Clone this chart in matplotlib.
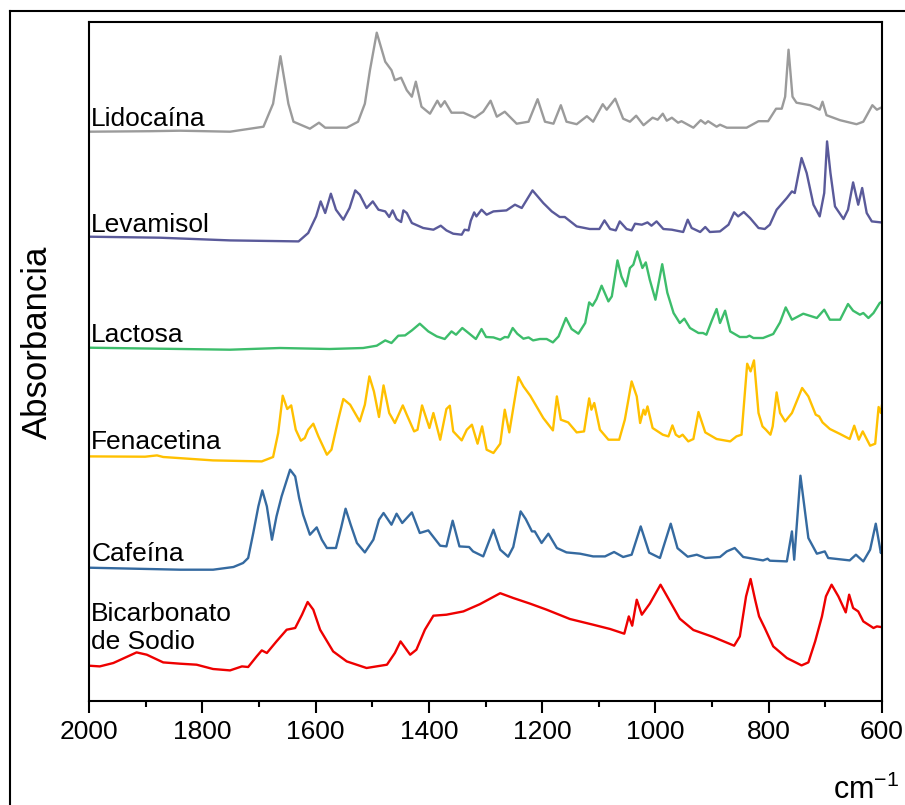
import matplotlib
matplotlib.use('Agg')
import matplotlib.pyplot as plt
from matplotlib.lines import Line2D
from matplotlib.ticker import MultipleLocator

plt.rcParams['font.family'] = ['Liberation Sans', 'DejaVu Sans']
plt.rcParams['mathtext.fontset'] = 'custom'
plt.rcParams['mathtext.rm'] = 'Liberation Sans'

# ---- spectra (wavenumber cm-1, absorbance in arbitrary units above own baseline) ----
lido_wn = [2000, 1892, 1839, 1751, 1692, 1675, 1662, 1648, 1639, 1610, 1594, 1583, 1545, 1525, 1513,
           1504, 1492, 1477, 1466, 1460, 1449, 1439, 1430, 1423, 1413, 1398, 1385, 1379, 1372, 1360,
           1339, 1319, 1304, 1291, 1280, 1266, 1245, 1224, 1208, 1195, 1180, 1167, 1157, 1139, 1121,
           1110, 1093, 1086, 1071, 1057, 1045, 1034, 1021, 1005, 996, 987, 980, 971, 960, 954, 933,
           920, 912, 907, 892, 886, 874, 839, 818, 801, 787, 777, 771, 765, 758, 751, 727, 710, 705,
           698, 674, 645, 633, 617, 609, 602, 600]
lido_abs = [0, 0.5, 1, 0, 5, 28, 75.5, 28, 10, 3, 9, 4, 4, 10, 28,
            61.5, 99, 70, 61.5, 51.5, 54, 41.5, 35, 50, 25, 18, 31, 25, 30.5, 19,
            19, 14, 20, 31, 15, 20, 8, 10, 32.5, 10, 8, 26.5, 10, 7.5, 15.5,
            10, 27.5, 22, 33, 13, 10, 16, 6.5, 14, 12, 18, 11, 14, 9, 10.5, 4,
            11.5, 8, 10.5, 5, 7, 4, 4, 10.5, 10.5, 23, 23, 35, 82, 35, 29, 26.5, 22, 30,
            16.5, 11.5, 7.5, 10, 26.5, 22, 24, 24]

leva_wn = [2000, 1875, 1751, 1630, 1613, 1599, 1591, 1583, 1573, 1564, 1551, 1540, 1530, 1522, 1510,
           1499, 1489, 1477, 1470, 1464, 1457, 1449, 1445, 1439, 1430, 1410, 1392, 1379, 1369, 1357,
           1342, 1337, 1330, 1326, 1320, 1316, 1307, 1298, 1286, 1263, 1248, 1236, 1217, 1198, 1183,
           1169, 1160, 1139, 1116, 1099, 1090, 1080, 1070, 1063, 1051, 1042, 1036, 1024, 1014, 1007,
           998, 986, 971, 951, 943, 936, 921, 912, 904, 886, 871, 861, 854, 844, 833, 818, 807, 798,
           786, 768, 759, 754, 742, 733, 721, 710, 702, 697, 691, 683, 668, 660, 651, 642, 635, 627,
           618, 602, 600]
leva_abs = [0, -1, -3.7, -4.7, 3.7, 20.3, 35.3, 23.7, 43, 27, 17, 28.7, 46.3, 42, 28.7,
            35.3, 27, 25.3, 19.7, 26.3, 17.7, 14.7, 26.3, 23.7, 13.7, 8.7, 7, 11, 6.3, 3,
            2, 7, 6.3, 16, 24.3, 20.3, 27, 22, 25.3, 26.3, 32, 28.7, 46.3, 33.7, 25.3,
            19.7, 19.7, 10.3, 7.7, 7.7, 16.3, 7.7, 6.3, 15.3, 7.7, 6.3, 13, 12, 14.3, 11,
            15.3, 7.7, 7, 4.7, 17, 8.7, 4.7, 9.7, 4.7, 5.3, 12, 24.3, 20.3, 24.7, 18.7, 8.7, 7.7, 12,
            27, 38.7, 45.3, 43.7, 78.7, 63.7, 32, 20.3, 43.7, 95.3, 63.7, 30.3, 17.7, 27, 54.3, 32, 48.7, 23.7,
            15.3, 14.3, 14.3]

lact_wn = [2000, 1751, 1663, 1575, 1516, 1492, 1477, 1466, 1454, 1442, 1430, 1416, 1401, 1386, 1372,
           1360, 1352, 1341, 1330, 1317, 1307, 1299, 1286, 1274, 1266, 1260, 1252, 1244, 1233, 1224,
           1216, 1204, 1192, 1181, 1171, 1158, 1148, 1136, 1124, 1117, 1111, 1104, 1095, 1083, 1077,
           1067, 1060, 1052, 1045, 1039, 1032, 1023, 1017, 1010, 1000, 988, 979, 968, 957, 949, 939,
           924, 916, 910, 901, 892, 886, 877, 868, 851, 839, 834, 827, 810, 792, 780, 770, 759, 739,
           715, 702, 692, 674, 660, 651, 639, 633, 624, 615, 604, 600]
lact_abs = [0, -2, -0.3, -1.3, -0.3, 2, 7.3, 4.7, 12, 12.3, 17.3, 24, 16.3, 11.3, 8.7,
            16.3, 13, 19.7, 14.7, 8.7, 18.7, 10.7, 10.3, 8, 10.7, 10.3, 19.7, 14, 9, 10.3,
            7.3, 8.7, 8.7, 5.3, 11.3, 29.7, 18.7, 14, 24.7, 45.3, 42, 48.7, 62, 46.3, 51.3,
            87.3, 71.3, 61.3, 79.7, 83, 96.3, 79.7, 85.3, 68, 48, 83.5, 55, 34.7, 24.7, 29, 19.7,
            14.7, 14.7, 13, 26.3, 38.7, 24.7, 37, 16.3, 10.7, 10.7, 12, 9.7, 9.7, 13.7, 25.3, 40.3, 28, 34,
            29.7, 38, 28, 28, 43.7, 37, 33, 34.7, 29.7, 34.7, 44.7, 46]

fena_wn = [2000, 1901, 1880, 1869, 1781, 1695, 1675, 1666, 1658, 1650, 1643, 1635, 1626, 1619, 1613,
           1604, 1595, 1580, 1572, 1560, 1551, 1539, 1522, 1513, 1505, 1497, 1488, 1480, 1470, 1460,
           1446, 1439, 1426, 1420, 1412, 1399, 1392, 1380, 1369, 1363, 1357, 1342, 1333, 1324, 1314,
           1306, 1298, 1286, 1274, 1266, 1258, 1242, 1233, 1221, 1198, 1181, 1174, 1167, 1154, 1139,
           1126, 1117, 1113, 1108, 1098, 1083, 1064, 1054, 1042, 1033, 1027, 1021, 1018, 1014, 1005,
           987, 977, 970, 964, 958, 952, 942, 933, 924, 912, 892, 868, 857, 848, 838, 832, 826, 818,
           811, 805, 797, 793, 786, 780, 771, 759, 741, 730, 717, 711, 705, 692, 674, 657, 649, 641,
           634, 621, 612, 606, 602, 600]
fena_abs = [0.3, 0, 1.3, -0.3, -3.7, -4.7, -0.3, 23.7, 61, 47.7, 51.3, 27, 16, 18.7, 27,
            33, 20.3, 2, 7, 37, 57.7, 52, 35.3, 52, 80.3, 65.3, 39.7, 71.3, 43.7, 33.7,
            51.3, 42, 25.3, 27, 51.3, 28.7, 43.7, 17, 47.7, 51, 25.3, 16.3, 27, 32, 13,
            30.3, 7, 3.7, 13, 47, 24.3, 79.7, 70.3, 61, 38.7, 26.3, 60.3, 37, 34.3, 24.3,
            25.3, 58.3, 47, 53.7, 27, 17, 17, 37, 75.3, 60.3, 33.7, 47, 42, 50.3, 28.7,
            22, 20.3, 31.3, 22, 19.7, 22, 15.3, 17.7, 44.7, 24.3, 17.7, 15.3, 20.3, 22, 93, 85.3, 96.3, 43.7,
            30.3, 27, 22, 30.3, 64.3, 43.7, 35.3, 43.7, 68.7, 60.3, 42, 40.3, 34.3, 27.7, 22.7, 17.7, 31, 17,
            25.3, 11, 13, 49.7, 43.7, 52]

cafe_wn = [2000, 1839, 1781, 1745, 1728, 1719, 1710, 1701, 1694, 1686, 1677, 1669, 1660, 1645, 1636,
           1629, 1622, 1610, 1598, 1589, 1580, 1564, 1555, 1547, 1538, 1527, 1513, 1498, 1488, 1480,
           1466, 1457, 1447, 1430, 1416, 1401, 1380, 1369, 1358, 1346, 1329, 1322, 1304, 1286, 1274,
           1260, 1251, 1238, 1229, 1218, 1213, 1201, 1189, 1174, 1157, 1133, 1110, 1089, 1073, 1057,
           1042, 1026, 1011, 992, 973, 961, 943, 927, 912, 886, 874, 860, 845, 810, 802, 798, 768, 759,
           755, 744, 730, 715, 701, 695, 657, 646, 633, 621, 611, 602, 600]
cafe_abs = [0, -2, -2, 0.7, 4.7, 9.7, 34.7, 61.3, 77.3, 61.3, 28, 51.3, 71.3, 98, 91.3,
            69.7, 53, 33, 40.3, 28, 19.7, 19.7, 39.7, 59, 43, 24.7, 15.3, 28, 48, 54.7,
            43, 54, 44.7, 55.3, 34.7, 37.3, 22, 21.3, 47, 21.3, 20.7, 16.3, 11.3, 38, 18,
            11, 20.7, 56.3, 48.7, 36.3, 36.3, 24.7, 34, 19.7, 15.3, 14, 11.3, 11.3, 15.7, 10.7,
            13, 41.3, 15, 9.7, 44, 19.5, 11, 13, 9.7, 10.7, 16.3, 19.7, 10.7, 7.3, 9, 7, 6.3, 36.3,
            8, 92, 29.7, 14, 16.3, 9.7, 7.3, 13, 6.3, 18, 44, 14.7, 20]

bica_wn = [2000, 1981, 1957, 1916, 1898, 1869, 1839, 1810, 1781, 1751, 1730, 1719, 1704, 1695, 1686,
           1669, 1651, 1636, 1624, 1614, 1604, 1592, 1569, 1545, 1510, 1474, 1460, 1450, 1433, 1422,
           1407, 1392, 1369, 1339, 1310, 1274, 1251, 1221, 1192, 1151, 1110, 1080, 1055, 1047, 1041,
           1033, 1024, 1010, 991, 977, 957, 933, 898, 861, 851, 840, 832, 824, 817, 807, 792, 768,
           742, 730, 718, 706, 699, 689, 677, 664, 658, 651, 642, 633, 624, 615, 609, 602, 600]
bica_abs = [0, -0.7, 2.7, 13.3, 11, 3.3, 2, 1, -3.3, -4.7, -0.7, -1.3, 9.3, 15.3, 12.7,
            24.3, 36, 37.7, 51, 63.7, 56, 36, 14.3, 4.3, -2.3, 1, 12.7, 24.3, 11, 16,
            36, 50, 51, 54.3, 61.5, 72.5, 67.7, 62, 56, 46.7, 41, 36.7, 32, 49.3, 40,
            66, 51, 62, 81, 67, 47, 35.7, 28.7, 20, 29.3, 69.3, 86.7, 66, 49.3, 37.7, 19.3, 7.7,
            0.3, 3.3, 24.3, 49.3, 69.3, 81, 69.3, 53.3, 71, 57.7, 54.3, 44.3, 41, 37.7, 39.3, 38.7, 38.7]

names = ['Lidocaína', 'Levamisol', 'Lactosa', 'Fenacetina', 'Cafeína', 'Bicarbonato\nde Sodio']
colors = ['#9b9b9b', '#5a5a9a', '#3dbd6b', '#ffc000', '#356aa0', '#ee0000']
offsets = [569, 464, 353, 244, 133, 35]
label_dy = [5.5, 5, 6, 8, 7, 16.5]

spectra = [(lido_wn, lido_abs), (leva_wn, leva_abs), (lact_wn, lact_abs),
           (fena_wn, fena_abs), (cafe_wn, cafe_abs), (bica_wn, bica_abs)]

fig = plt.figure(figsize=(9.05, 8.05), dpi=100)
ax = fig.add_axes([89 / 905, 1 - 700.7 / 805, 793 / 905, 678.7 / 805])

for (wn, ab), name, c, off, dy in zip(spectra, names, colors, offsets, label_dy):
    ax.plot(wn, [a + off for a in ab], color=c, lw=1.7, solid_joinstyle='round',
            solid_capstyle='round')
    ax.text(1996, off + dy, name, fontsize=19, ha='left', va='baseline', linespacing=1.2)

ax.set_xlim(2000, 600)
ax.set_ylim(0, 678.7)
ax.xaxis.set_major_locator(MultipleLocator(200))
ax.xaxis.set_minor_locator(MultipleLocator(100))
ax.set_yticks([])
ax.tick_params(axis='x', which='major', direction='out', length=8.6, width=1.5,
               labelsize=19, pad=5, top=False)
ax.tick_params(axis='x', which='minor', direction='out', length=4.3, width=1.5, top=False)
for sp in ax.spines.values():
    sp.set_linewidth(1.5)

fig.text(37 / 905, 1 - 342 / 805, 'Absorbancia', rotation=90, ha='center', va='center', fontsize=25)
fig.text(899 / 905, 6 / 805, 'cm$^{\\rm{-1}}$', ha='right', va='baseline', fontsize=22)

# outer frame (partly outside the picture)
fig.add_artist(Line2D([9.5 / 905, 9.5 / 905], [0, 1 - 11.5 / 805], color='black', lw=1.5))
fig.add_artist(Line2D([9.5 / 905, 1], [1 - 11.5 / 805, 1 - 11.5 / 805], color='black', lw=1.5))

fig.savefig('out.png', dpi=100)
